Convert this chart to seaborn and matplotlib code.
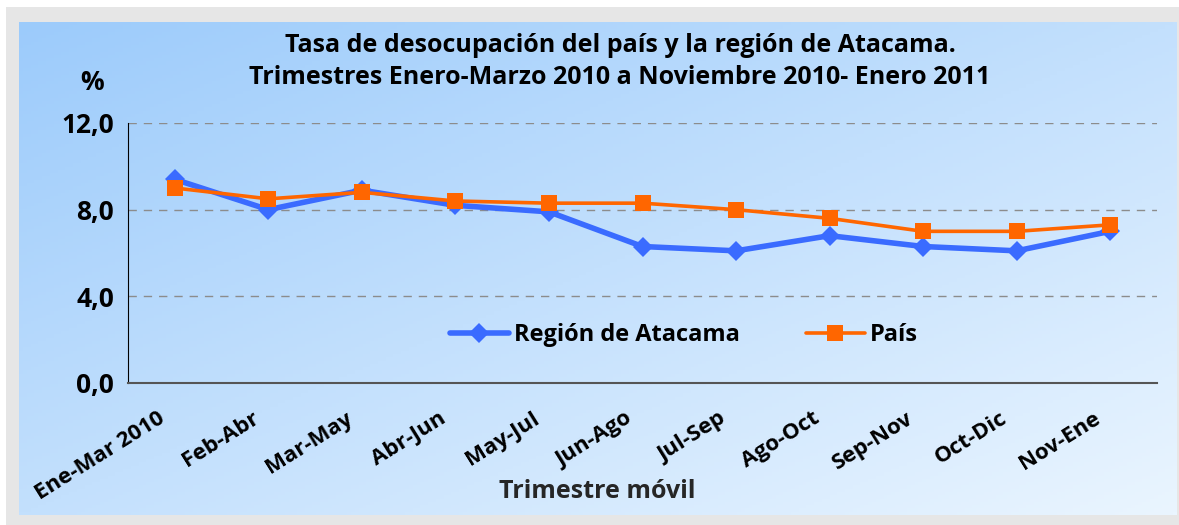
import matplotlib
matplotlib.use('Agg')
import numpy as np
import pandas as pd
import seaborn as sns
import matplotlib.pyplot as plt
from matplotlib.transforms import ScaledTranslation
from matplotlib.ticker import FixedLocator, FuncFormatter

periodos = ['Ene-Mar 2010', 'Feb-Abr', 'Mar-May', 'Abr-Jun', 'May-Jul', 'Jun-Ago',
            'Jul-Sep', 'Ago-Oct', 'Sep-Nov', 'Oct-Dic', 'Nov-Ene']
atacama = [9.4, 8.0, 8.9, 8.2, 7.9, 6.3, 6.1, 6.8, 6.3, 6.1, 7.0]
pais = [9.0, 8.5, 8.8, 8.4, 8.3, 8.3, 8.0, 7.6, 7.0, 7.0, 7.3]

df = pd.DataFrame({'periodo': periodos * 2,
                   'tasa': atacama + pais,
                   'serie': ['Región de Atacama'] * len(periodos) + ['País'] * len(periodos)})

sns.set_style('white')
plt.rcParams['font.family'] = ['Open Sans', 'DejaVu Sans']
plt.rcParams['font.weight'] = 'bold'
plt.rcParams['text.color'] = 'black'
plt.rcParams['xtick.color'] = 'black'
plt.rcParams['ytick.color'] = 'black'

W, H = 1179, 525
fig = plt.figure(figsize=(W / 100, H / 100), dpi=100)
fig.patch.set_facecolor('white')

# gray frame
frame = fig.add_axes([6 / W, 0, (W - 6) / W, (H - 7) / H], zorder=-2)
frame.set_facecolor('#e6e6e6')
frame.set_xticks([])
frame.set_yticks([])
for s in frame.spines.values():
    s.set_visible(False)

# gradient panel
bg = fig.add_axes([19 / W, 10 / H, (1177 - 19) / W, (515 - 22) / H], zorder=-1)
gx, gy = np.meshgrid(np.linspace(0, 1, 300), np.linspace(0, 1, 150))
t = (gx + gy) / 2
c0 = np.array([0x9c, 0xcb, 0xfb]) / 255
c1 = np.array([0xea, 0xf5, 0xff]) / 255
img = c0[None, None, :] + (c1 - c0)[None, None, :] * t[:, :, None]
bg.imshow(img, aspect='auto', extent=[0, 1, 1, 0])
bg.set_axis_off()

ax = fig.add_axes([128 / W, 1 - 383 / H, (1157 - 128) / W, (383 - 123) / H], zorder=1)
ax.patch.set_alpha(0)

sns.lineplot(data=df, x='periodo', y='tasa', hue='serie', style='serie',
             palette={'Región de Atacama': '#3a6bff', 'País': '#ff6600'},
             markers={'Región de Atacama': 'D', 'País': 's'}, dashes=False,
             sort=False, ax=ax)
for line in ax.lines:
    if line.get_color() == '#3a6bff':
        line.set_linewidth(4)
        line.set_markersize(10.5)
        line.set_zorder(3)
    else:
        line.set_linewidth(2.6)
        line.set_markersize(11.5)
        line.set_zorder(4)
    line.set_markeredgewidth(0)

ax.set_ylim(0, 12)
ax.set_xlim(-0.5, len(periodos) - 0.5)
ax.set_yticks([0, 4, 8, 12])
ax.yaxis.set_major_formatter(FuncFormatter(lambda v, p: f'{v:.1f}'.replace('.', ',')))
ax.set_xticks(range(len(periodos)))
ax.set_xticklabels(periodos, rotation=32, ha='right', rotation_mode='anchor', fontsize=16)
ax.xaxis.set_minor_locator(FixedLocator(np.arange(-0.5, len(periodos), 1.0)))
ax.tick_params(axis='x', which='major', length=0, pad=18)
ax.tick_params(axis='x', which='minor', length=6, width=1, color='#555555', direction='out')
ax.tick_params(axis='y', length=6, width=1, color='black', direction='out', labelsize=19, pad=4)
shift = ScaledTranslation(-0.17, 0, fig.dpi_scale_trans)
for lab in ax.get_xticklabels():
    lab.set_fontweight('bold')
    lab.set_transform(lab.get_transform() + shift)
for lab in ax.get_yticklabels():
    lab.set_fontweight('bold')

ax.yaxis.grid(True, linestyle=(0, (6, 5)), color='#8c8c8c', linewidth=1)
ax.set_axisbelow(True)
for s in ['top', 'right']:
    ax.spines[s].set_visible(False)
ax.spines['left'].set_color('black')
ax.spines['bottom'].set_color('#555555')
ax.spines['bottom'].set_linewidth(1.5)

ax.set_xlabel('Trimestre móvil', fontsize=18, fontweight='bold')
ax.xaxis.set_label_coords((597 - 128) / 1029, (383 - 492) / 260)
ax.xaxis.label.set_va('center')
ax.set_ylabel('')
fig.text(92 / W, 1 - 83 / H, '%', fontsize=19, fontweight='bold', ha='center', va='center')
fig.text(620 / W, 1 - 45 / H, 'Tasa de desocupación del país y la región de Atacama.',
         fontsize=18, fontweight='bold', ha='center', va='center')
fig.text(620 / W, 1 - 78 / H, 'Trimestres Enero-Marzo 2010 a Noviembre 2010- Enero 2011',
         fontsize=18, fontweight='bold', ha='center', va='center')

ax.legend(loc='center', bbox_to_anchor=(0.54, 0.185), ncol=2, frameon=False,
          prop={'size': 17, 'weight': 'bold'}, handlelength=2.5, columnspacing=2.8,
          handletextpad=0.2)

fig.savefig('out.png', dpi=100)
